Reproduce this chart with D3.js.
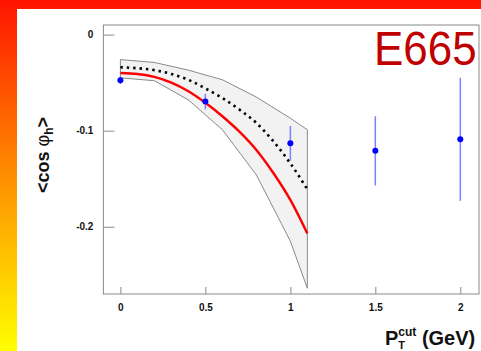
<!DOCTYPE html>
<html>
<head>
<meta charset="utf-8">
<script src="https://cdn.jsdelivr.net/npm/d3@7"></script>
<style>
  html, body { margin: 0; padding: 0; overflow: hidden; }
  svg { display: block; }
</style>
</head>
<body>
<svg id="draw" width="481" height="351"></svg>
<script>
// measured points (E665)
let ptCut = [0, 0.5, 1, 1.5, 2];
let cosMean = [-0.0475, -0.0697, -0.113, -0.121, -0.109];
let cosErr = [0.004, 0.008, 0.018, 0.036, 0.064];

// theory band
let bandX = [0, 0.2, 0.4, 0.6, 0.8, 1.0, 1.1];
let bandUpper = [-0.026, -0.029, -0.037, -0.047, -0.065, -0.087, -0.099];
let bandLower = [-0.045, -0.048, -0.068, -0.099, -0.146, -0.215, -0.264];

// curves
let curveX = [0, 0.1, 0.2, 0.3, 0.4, 0.5, 0.6, 0.7, 0.8, 0.9, 1.0, 1.1];
let redCurve = [-0.040, -0.041, -0.044, -0.050, -0.059, -0.071, -0.085, -0.101, -0.120, -0.144, -0.172, -0.207];
let dotCurve = [-0.034, -0.035, -0.037, -0.041, -0.047, -0.056, -0.066, -0.078, -0.092, -0.111, -0.134, -0.161];

let xTicks = [0, 0.5, 1, 1.5, 2];
let xTickLabels = ["0", "0.5", "1", "1.5", "2"];
let yTicks = [0, -0.1, -0.2];
let yTickLabels = ["0", "-0.1", "-0.2"];

let svg = d3.select("#draw");

// slide background
let grad = svg.append("defs").append("linearGradient")
    .attr("id", "bg").attr("x1", 0).attr("y1", 0).attr("x2", 0).attr("y2", 1);
grad.append("stop").attr("offset", "0%").attr("stop-color", "#ff1400");
grad.append("stop").attr("offset", "55%").attr("stop-color", "#ff9a00");
grad.append("stop").attr("offset", "100%").attr("stop-color", "#ffff00");
svg.append("rect").attr("width", 481).attr("height", 351).attr("fill", "url(#bg)");
svg.append("rect").attr("x", 17).attr("y", 9).attr("width", 464).attr("height", 342).attr("fill", "#fff");

let x = d3.scaleLinear().domain([-0.1, 2.11]).range([103.4, 479]);
let y = d3.scaleLinear().domain([0.01, -0.27]).range([25, 294]);

// band
let band = d3.area()
    .x((d, i) => x(bandX[i]))
    .y0((d, i) => y(bandLower[i]))
    .y1((d, i) => y(bandUpper[i]));
svg.append("path")
    .attr("d", band(bandX) + "")
    .attr("fill", "#f2f2f2")
    .attr("stroke", "none");
let outline = bandX.map((v, i) => [x(v), y(bandUpper[i])])
    .concat(bandX.slice().reverse().map((v, i) => [x(v), y(bandLower[bandX.length - 1 - i])]));
outline.push(outline[0]);
svg.append("path")
    .attr("d", d3.line()(outline))
    .attr("fill", "none")
    .attr("stroke", "#8a8a8a")
    .attr("stroke-width", 1);

let line = d3.line().curve(d3.curveMonotoneX);
svg.append("path")
    .attr("d", line(curveX.map((v, i) => [x(v), y(dotCurve[i])])))
    .attr("fill", "none")
    .attr("stroke", "#000")
    .attr("stroke-width", 2.6)
    .attr("stroke-dasharray", "2.4,4");
svg.append("path")
    .attr("d", line(curveX.map((v, i) => [x(v), y(redCurve[i])])))
    .attr("fill", "none")
    .attr("stroke", "#ff0000")
    .attr("stroke-width", 2.4);

// frame + axes
svg.append("rect")
    .attr("x", 103.4).attr("y", 25).attr("width", 479 - 103.4).attr("height", 294 - 25)
    .attr("fill", "none").attr("stroke", "#8a8a8a").attr("stroke-width", 1);

let yAxis = svg.append("g")
    .attr("transform", "translate(103.4,0)")
    .call(d3.axisLeft(y).tickValues(yTicks).tickSize(-11).tickPadding(10)
        .tickFormat((d, i) => yTickLabels[i]));
let xAxis = svg.append("g")
    .attr("transform", "translate(0,294)")
    .call(d3.axisBottom(x).tickValues(xTicks).tickSize(-7).tickPadding(10)
        .tickFormat((d, i) => xTickLabels[i]));
[xAxis, yAxis].forEach(a => {
    a.select(".domain").remove();
    a.selectAll("line").attr("stroke", "#8a8a8a");
    a.selectAll("text")
        .attr("font-family", "Liberation Sans, Arial, sans-serif")
        .attr("font-weight", "bold")
        .attr("font-size", 10)
        .attr("fill", "#111");
});

// data points
svg.selectAll(".err")
    .data(ptCut)
    .enter()
    .append("line")
    .attr("x1", d => x(d)).attr("x2", d => x(d))
    .attr("y1", (d, i) => y(cosMean[i] + cosErr[i]))
    .attr("y2", (d, i) => y(cosMean[i] - cosErr[i]))
    .attr("stroke", "#7f7fff")
    .attr("stroke-width", 1.5);
svg.selectAll(".pt")
    .data(ptCut)
    .enter()
    .append("circle")
    .attr("cx", d => x(d))
    .attr("cy", (d, i) => y(cosMean[i]))
    .attr("r", 3)
    .attr("fill", "#0000ff");

// labels
svg.append("text")
    .attr("transform", "translate(374,65) scale(1,1.1)")
    .attr("font-family", "Liberation Sans, Arial, sans-serif")
    .attr("font-size", 44)
    .attr("fill", "#c00000")
    .text("E665");

let yl = svg.append("text")
    .attr("transform", "translate(49,155) rotate(-90)")
    .attr("text-anchor", "middle")
    .attr("font-family", "Liberation Sans, Arial, sans-serif")
    .attr("font-weight", "bold")
    .attr("font-size", 18)
    .attr("fill", "#111");
yl.append("tspan").text("<cos ");
yl.append("tspan").attr("font-weight", "normal").text("\u03c6");
yl.append("tspan").attr("font-size", 12).attr("dy", 4).text("h");
yl.append("tspan").attr("dy", -4).text(">");

let xl = svg.append("text")
    .attr("x", 385).attr("y", 345)
    .attr("font-family", "Liberation Sans, Arial, sans-serif")
    .attr("font-weight", "bold")
    .attr("font-size", 20)
    .attr("fill", "#111");
let pSpan = xl.append("tspan").text("P");
xl.append("tspan").attr("font-size", 12).attr("dy", -9).text("cut");
xl.append("tspan").attr("dy", 9).text(" (GeV)");
let pw = pSpan.node().getComputedTextLength();
svg.append("text")
    .attr("x", 385 + pw).attr("y", 349)
    .attr("font-family", "Liberation Sans, Arial, sans-serif")
    .attr("font-weight", "bold")
    .attr("font-size", 11)
    .attr("fill", "#111")
    .text("T");
</script>
</body>
</html>
